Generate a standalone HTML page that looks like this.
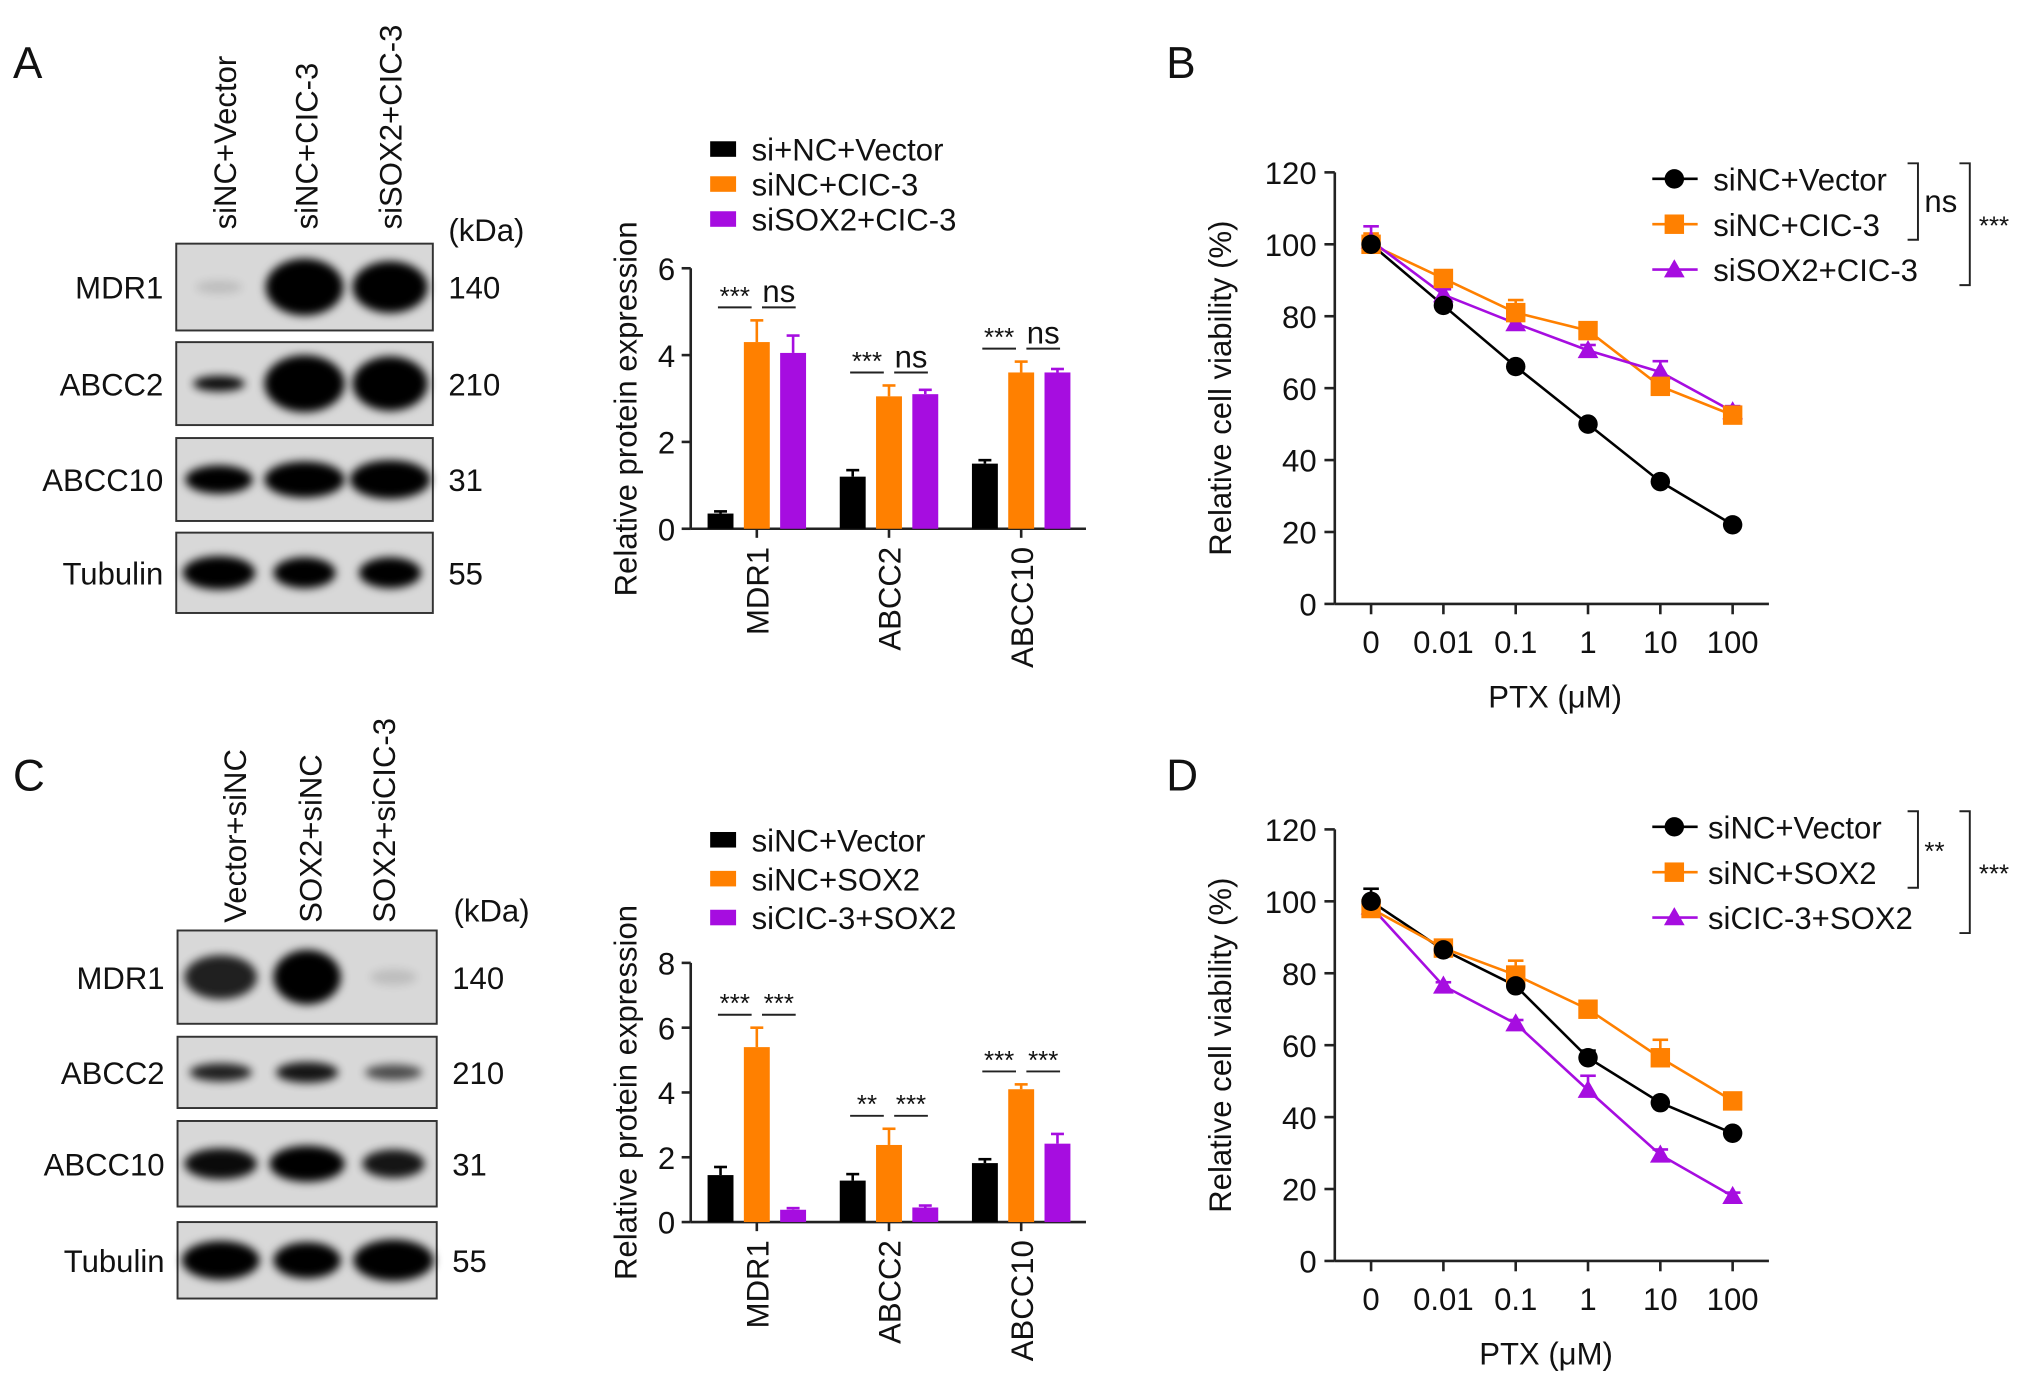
<!DOCTYPE html>
<html><head><meta charset="utf-8"><style>
html,body{margin:0;padding:0;background:#fff;}
svg{display:block;font-family:"Liberation Sans",Arial,sans-serif;}
</style></head><body>
<svg id="fig" width="2032" height="1382" viewBox="0 0 1568 1066.4" xmlns="http://www.w3.org/2000/svg">
<defs>
<filter id="blur" x="-30%" y="-60%" width="160%" height="220%"><feGaussianBlur stdDeviation="3.5"/></filter>
</defs>
<g id="root"></g>
</svg>
<script>
// ---------- data ----------
const barCategories = ["MDR1","ABCC2","ABCC10"];
const barALegend = ["si+NC+Vector","siNC+CIC-3","siSOX2+CIC-3"];
const barAValues0 = [0.35,1.2,1.5];
const barAValues1 = [4.3,3.05,3.6];
const barAValues2 = [4.05,3.1,3.6];
const barAErr0 = [0.05,0.15,0.08];
const barAErr1 = [0.5,0.25,0.25];
const barAErr2 = [0.4,0.1,0.08];
const barATicks = [0,2,4,6];
const barASig1 = ["***","***","***"];
const barASig2 = ["ns","ns","ns"];

const barCLegend = ["siNC+Vector","siNC+SOX2","siCIC-3+SOX2"];
const barCValues0 = [1.45,1.28,1.82];
const barCValues1 = [5.4,2.38,4.1];
const barCValues2 = [0.38,0.45,2.42];
const barCErr0 = [0.25,0.2,0.12];
const barCErr1 = [0.6,0.5,0.15];
const barCErr2 = [0.05,0.06,0.3];
const barCTicks = [0,2,4,6,8];
const barCSig1 = ["***","**","***"];
const barCSig2 = ["***","***","***"];

const doseLabels = ["0","0.01","0.1","1","10","100"];
const lineTicks = [0,20,40,60,80,100,120];
const lineBLegend = ["siNC+Vector","siNC+CIC-3","siSOX2+CIC-3"];
const lineB0 = [100,83,66,50,34,22];
const lineB1 = [100,90.5,81,76,60.5,52.5];
const lineB2 = [101,86,78,70.5,64.5,53.5];
const lineBErr0 = [2,1,1,1,1,1];
const lineBErr1 = [3,1.5,3.5,1.5,2,1.5];
const lineBErr2 = [4,1.5,1.5,1.5,3,1.5];
const lineDLegend = ["siNC+Vector","siNC+SOX2","siCIC-3+SOX2"];
const lineD0 = [100,86.5,76.5,56.5,44,35.5];
const lineD1 = [98,87,79.5,70,56.5,44.5];
const lineD2 = [98.5,76.5,66,47.5,29.5,18];
const lineDErr0 = [3.5,2.5,1.5,2,1,1];
const lineDErr1 = [1.5,1.5,4,2,5,1.5];
const lineDErr2 = [1,1,1,4,1.5,1];

const COLORS = ["#000000","#ff8000","#a60de0"];
const NS = "http://www.w3.org/2000/svg";
const root = document.getElementById("root");

function el(tag, attrs, parent, text){
  const e = document.createElementNS(NS, tag);
  for (const k in attrs) e.setAttribute(k, attrs[k]);
  if (text !== undefined) e.textContent = text;
  (parent || root).appendChild(e);
  return e;
}
function txt(x,y,s,size,anchor,parent,rot){
  const t = el("text",{x:x,y:y,"font-size":size,"text-anchor":anchor||"start",fill:"#111"},parent,s);
  if (rot) t.setAttribute("transform","rotate("+rot+" "+x+" "+y+")");
  return t;
}

// ---------- panel labels ----------
[["A",10,60],["B",900,60],["C",10,610],["D",900,610]].forEach(p=>{
  const t = txt(p[1],p[2],p[0],34,"start");
  
  
});

// ---------- western blots ----------
function blot(cfg){
  const g = el("g",{});
  
  
  cfg.lanes.forEach((l,i)=>{
    const t = txt(cfg.laneX[i], cfg.laneY, l, 24, "start", g, -90);
    
    
  });
  const k = txt(cfg.kdaX, cfg.kdaY, "(kDa)", 24, "start", g);
  
  
  cfg.rows.forEach((r,ri)=>{
    const y0=r[0], y1=r[1];
    const rg = el("g",{},g);
    
    
    el("rect",{x:cfg.x0,y:y0,width:cfg.x1-cfg.x0,height:y1-y0,fill:"#d8d8d8",stroke:"#333","stroke-width":1.5},rg);
    const cy=(y0+y1)/2;
    cfg.bands[ri].forEach((b,bi)=>{
      const cx = cfg.x0 + (cfg.x1-cfg.x0)*(bi+0.5)/3;
      if (b[0]>0) el("ellipse",{cx:cx,cy:cy,rx:b[0],ry:b[1],fill:"#000",opacity:b[2],filter:"url(#blur)"},rg);
    });
    const pl = txt(cfg.x0-10, cy+9, cfg.prot[ri], 24, "end", rg);
    
    
    const kl = txt(cfg.x1+12, cy+9, cfg.kda[ri], 24, "start", rg);
    
    
  });
}
blot({name:"western-blot-a",x0:136,x1:334,laneX:[182,245,310],laneY:177,kdaX:346,kdaY:186,
  lanes:["siNC+Vector","siNC+CIC-3","siSOX2+CIC-3"],prot:["MDR1","ABCC2","ABCC10","Tubulin"],kda:["140","210","31","55"],
  rows:[[188,255],[264,328],[338,402],[411,473]],
  bands:[[[18,5,0.12],[30,22,1],[29,20,1]],[[20,6,0.95],[31,22,1],[29,21,1]],[[26,11,1],[31,14,1],[31,15,1]],[[28,13,1],[24,12,1],[24,12,1]]]});
blot({name:"western-blot-c",x0:137,x1:337,laneX:[190,248,305],laneY:712,kdaX:350,kdaY:711,
  lanes:["Vector+siNC","SOX2+siNC","SOX2+siCIC-3"],prot:["MDR1","ABCC2","ABCC10","Tubulin"],kda:["140","210","31","55"],
  rows:[[718,790],[800,855],[865,931],[943,1002]],
  bands:[[[28,17,0.85],[26,21,1],[18,6,0.12]],[[24,7,0.85],[24,8,0.9],[22,6,0.65]],[[28,12,0.95],[29,14,1],[24,11,0.9]],[[30,15,1],[26,14,1],[31,16,1]]]});

// ---------- bar charts ----------
function barChart(cfg){
  const g = el("g",{});
  
  
  const yS = v => cfg.y0 - (v-cfg.ticks[0])/(cfg.ticks[cfg.ticks.length-1]-cfg.ticks[0])*(cfg.y0-cfg.yTop);
  const xS = i => cfg.xStart + i*cfg.xStep;
  el("line",{x1:cfg.ax,y1:yS(cfg.ticks[cfg.ticks.length-1]),x2:cfg.ax,y2:cfg.y0,stroke:"#222","stroke-width":2},g);
  el("line",{x1:cfg.ax,y1:cfg.y0,x2:cfg.xEnd,y2:cfg.y0,stroke:"#222","stroke-width":2},g);
  cfg.ticks.forEach(t=>{
    el("line",{x1:cfg.ax-7,y1:yS(t),x2:cfg.ax,y2:yS(t),stroke:"#222","stroke-width":2},g);
    const tl = txt(cfg.ax-12, yS(t)+9, String(t), 24, "end", g);
    
    
  });
  const yt = txt(cfg.ax-42, (cfg.y0+cfg.yTop)/2+cfg.titleOff, "Relative protein expression", 24, "middle", g, -90);
  
  
  const series=[cfg.v0,cfg.v1,cfg.v2], errs=[cfg.e0,cfg.e1,cfg.e2];
  barCategories.forEach((c,i)=>{
    const cx = xS(i);
    el("line",{x1:cx,y1:cfg.y0,x2:cx,y2:cfg.y0+7,stroke:"#222","stroke-width":2},g);
    const cl = txt(cx+9, cfg.y0+14, c, 24, "end", g, -90);
    
    
    series.forEach((s,si)=>{
      const bx = cx + (si-1)*28 - 10;
      const top = yS(s[i]), et = yS(s[i]+errs[si][i]);
      el("line",{x1:bx+10,y1:top,x2:bx+10,y2:et,stroke:COLORS[si],"stroke-width":2},g);
      el("line",{x1:bx+5,y1:et,x2:bx+15,y2:et,stroke:COLORS[si],"stroke-width":2},g);
      const r = el("rect",{x:bx,y:top,width:20,height:cfg.y0-top,fill:COLORS[si]},g);
      
      
    });
    const sy = yS(Math.max(cfg.v1[i]+cfg.e1[i], cfg.v2[i]+cfg.e2[i])) - 10;
    el("line",{x1:cx-30,y1:sy,x2:cx-4,y2:sy,stroke:"#222","stroke-width":1.5},g);
    el("line",{x1:cx+4,y1:sy,x2:cx+30,y2:sy,stroke:"#222","stroke-width":1.5},g);
    const s1 = txt(cx-17, sy-2, cfg.s1[i], 20, "middle", g);
    
    
    const s2 = txt(cx+17, cfg.s2[i]==="ns"?sy-4:sy-2, cfg.s2[i], cfg.s2[i]==="ns"?24:20, "middle", g);
    
    
  });
  cfg.legend.forEach((l,li)=>{
    const lg = el("g",{},g);
    
    
    el("rect",{x:548,y:cfg.legY+li*cfg.legStep-6,width:20,height:12,fill:COLORS[li]},lg);
    txt(580, cfg.legY+li*cfg.legStep+9, l, 24, "start", lg);
  });
}
barChart({name:"bar-chart-a",ax:533,y0:408,yTop:207,xEnd:838,xStart:584,xStep:102,ticks:barATicks,titleOff:8,
  v0:barAValues0,v1:barAValues1,v2:barAValues2,e0:barAErr0,e1:barAErr1,e2:barAErr2,s1:barASig1,s2:barASig2,
  legend:barALegend,legY:115,legStep:27});
barChart({name:"bar-chart-c",ax:533,y0:943,yTop:743,xEnd:838,xStart:584,xStep:102,ticks:barCTicks,titleOff:0,
  v0:barCValues0,v1:barCValues1,v2:barCValues2,e0:barCErr0,e1:barCErr1,e2:barCErr2,s1:barCSig1,s2:barCSig2,
  legend:barCLegend,legY:648,legStep:30});

// ---------- line charts ----------
function marker(kind,x,y,color,parent){
  if (kind===0) return el("circle",{cx:x,cy:y,r:7.5,fill:color},parent);
  if (kind===1) return el("rect",{x:x-7.5,y:y-7.5,width:15,height:15,fill:color},parent);
  return el("polygon",{points:(x)+","+(y-8)+" "+(x+8)+","+(y+6)+" "+(x-8)+","+(y+6),fill:color},parent);
}
function lineChart(cfg){
  const g = el("g",{});
  
  
  const yS = v => cfg.y0 - v/120*(cfg.y0-cfg.yTop);
  const xS = i => 1058 + i*55.8;
  el("line",{x1:1030,y1:cfg.yTop,x2:1030,y2:cfg.y0,stroke:"#222","stroke-width":2},g);
  el("line",{x1:1030,y1:cfg.y0,x2:1365,y2:cfg.y0,stroke:"#222","stroke-width":2},g);
  lineTicks.forEach(t=>{
    el("line",{x1:1022,y1:yS(t),x2:1030,y2:yS(t),stroke:"#222","stroke-width":2},g);
    const tl = txt(1016, yS(t)+9, String(t), 24, "end", g);
    
    
  });
  doseLabels.forEach((d,i)=>{
    el("line",{x1:xS(i),y1:cfg.y0,x2:xS(i),y2:cfg.y0+8,stroke:"#222","stroke-width":2},g);
    const tl = txt(xS(i), cfg.y0+38, d, 24, "middle", g);
    
    
  });
  const xt = txt(cfg.ptxX, cfg.y0+80, "PTX (μM)", 24, "middle", g);
  
  
  const yt = txt(950, (cfg.y0+cfg.yTop)/2, "Relative cell viability (%)", 24, "middle", g, -90);
  
  
  const series=[cfg.s0,cfg.s1,cfg.s2], errs=[cfg.e0,cfg.e1,cfg.e2];
  series.forEach((s,si)=>{
    const sg = el("g",{},g);
    
    
    s.forEach((v,i)=>{
      el("line",{x1:xS(i),y1:yS(v),x2:xS(i),y2:yS(v+errs[si][i]),stroke:COLORS[si],"stroke-width":2},sg);
      el("line",{x1:xS(i)-6,y1:yS(v+errs[si][i]),x2:xS(i)+6,y2:yS(v+errs[si][i]),stroke:COLORS[si],"stroke-width":2},sg);
    });
    el("polyline",{points:s.map((v,i)=>xS(i)+","+yS(v)).join(" "),fill:"none",stroke:COLORS[si],"stroke-width":2},sg);
  });
  [2,1,0].forEach(si=>{
    series[si].forEach((v,i)=>{
      const m = marker(si,xS(i),yS(v),COLORS[si],g);
      
      
    });
  });
  cfg.legend.forEach((l,li)=>{
    const lg = el("g",{},g);
    
    
    const y = cfg.legY + li*35;
    el("line",{x1:1275,y1:y,x2:1310,y2:y,stroke:COLORS[li],"stroke-width":2},lg);
    marker(li,1292,y,COLORS[li],lg);
    txt(cfg.legTx, y+9, l, 24, "start", lg);
  });
  const b = el("g",{},g);
  
  
  const by1=cfg.legY-12, by2=cfg.legY+35+12, by3=cfg.legY+70+12;
  el("polyline",{points:"1472,"+by1+" 1480,"+by1+" 1480,"+by2+" 1472,"+by2,fill:"none",stroke:"#222","stroke-width":1.5},b);
  el("polyline",{points:"1512,"+by1+" 1520,"+by1+" 1520,"+by3+" 1512,"+by3,fill:"none",stroke:"#222","stroke-width":1.5},b);
  txt(1485, (by1+by2)/2+8, cfg.sigInner, cfg.sigInner==="ns"?24:20, "start", b);
  txt(1527, (by1+by3)/2+8, "***", 20, "start", b);
}
lineChart({name:"line-chart-b",y0:466,yTop:133,ptxX:1200,legY:138,legTx:1322,legend:lineBLegend,
  s0:lineB0,s1:lineB1,s2:lineB2,e0:lineBErr0,e1:lineBErr1,e2:lineBErr2,sigInner:"ns"});
lineChart({name:"line-chart-d",y0:973,yTop:640,ptxX:1193,legY:638,legTx:1318,legend:lineDLegend,
  s0:lineD0,s1:lineD1,s2:lineD2,e0:lineDErr0,e1:lineDErr1,e2:lineDErr2,sigInner:"**"});
</script>
</body></html>
